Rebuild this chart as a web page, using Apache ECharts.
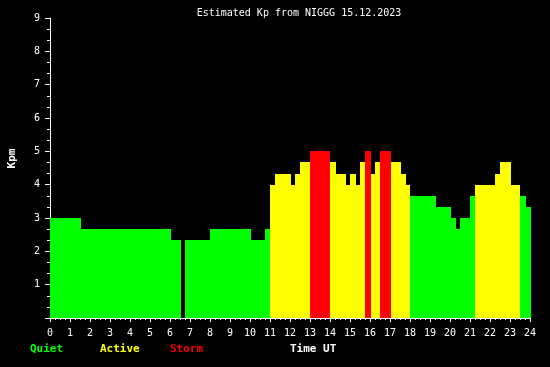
<!DOCTYPE html>
<html>
<head>
<meta charset="utf-8">
<script src="https://cdn.jsdelivr.net/npm/echarts@6/dist/echarts.min.js"></script>
<style>
html,body{margin:0;padding:0;background:#000;}
#chart{width:550px;height:367px;}
</style>
</head>
<body>
<div id="chart"></div>
<script>
// Kp intervals (hours UT) and estimated Kp values
const startHours = [0, 1.55, 6.05, 6.75, 8.0, 10.05, 10.75, 11.0, 11.25, 12.05, 12.25, 12.5, 13.0, 14.0, 14.3, 14.8, 15.0, 15.3, 15.5, 15.75, 16.05, 16.25, 16.5, 17.05, 17.55, 17.8, 18.0, 19.3, 20.05, 20.3, 20.5, 21.0, 21.25, 22.25, 22.5, 23.05, 23.5, 23.8];
const endHours   = [1.55, 6.05, 6.55, 8.0, 10.05, 10.75, 11.0, 11.25, 12.05, 12.25, 12.5, 13.0, 14.0, 14.3, 14.8, 15.0, 15.3, 15.5, 15.75, 16.05, 16.25, 16.5, 17.05, 17.55, 17.8, 18.0, 19.3, 20.05, 20.3, 20.5, 21.0, 21.25, 22.25, 22.5, 23.05, 23.5, 23.8, 24.05];
const kpValues   = [3.0, 2.667, 2.333, 2.333, 2.667, 2.333, 2.667, 4.0, 4.333, 4.0, 4.333, 4.667, 5.0, 4.667, 4.333, 4.0, 4.333, 4.0, 4.667, 5.0, 4.333, 4.667, 5.0, 4.667, 4.333, 4.0, 3.667, 3.333, 3.0, 2.667, 3.0, 3.667, 4.0, 4.333, 4.667, 4.0, 3.667, 3.333];
const xTickLabels = ['0','1','2','3','4','5','6','7','8','9','10','11','12','13','14','15','16','17','18','19','20','21','22','23','24'];
const legendLabels = ['Quiet', 'Active', 'Storm'];
const titleText = 'Estimated Kp from NIGGG 15.12.2023';

const GREEN = '#00ff00', YELLOW = '#ffff00', RED = '#ff0000';
const FONT = '"DejaVu Sans Mono", "Liberation Mono", monospace';

const data = startHours.map((s, i) => [s, endHours[i], kpValues[i]]);

function colorFor(v) {
  if (v >= 4.99) return RED;
  if (v >= 3.99) return YELLOW;
  return GREEN;
}

const chart = echarts.init(document.getElementById('chart'), null, {renderer: 'canvas'});
chart.setOption({
  backgroundColor: '#000000',
  animation: false,
  grid: {left: 50, right: 20, top: 18, height: 300},
  xAxis: {
    type: 'value', min: 0, max: 24, interval: 1,
    axisLine: {show: true, lineStyle: {color: '#ffffff', width: 1}},
    axisTick: {show: true, length: 4, lineStyle: {color: '#ffffff'}},
    minorTick: {show: true, splitNumber: 4, length: 2, lineStyle: {color: '#ffffff'}},
    splitLine: {show: false},
    axisLabel: {
      color: '#ffffff', fontFamily: FONT, fontSize: 10, margin: 10,
      formatter: (v) => xTickLabels[Math.round(v)] ?? ''
    }
  },
  yAxis: {
    type: 'value', min: 0, max: 9, interval: 1,
    axisLine: {show: true, lineStyle: {color: '#ffffff', width: 1}},
    axisTick: {show: true, length: 5, lineStyle: {color: '#ffffff'}},
    minorTick: {show: true, splitNumber: 3, length: 3, lineStyle: {color: '#ffffff'}},
    splitLine: {show: false},
    axisLabel: {
      color: '#ffffff', fontFamily: FONT, fontSize: 10, margin: 10,
      formatter: (v) => v === 0 ? '' : String(v)
    }
  },
  series: [{
    type: 'custom',
    data: data,
    encode: {x: [0, 1], y: 2},
    z: 5,
    renderItem: function (params, api) {
      const s = api.value(0), e = api.value(1), v = api.value(2);
      const p0 = api.coord([s, v]);
      const p1 = api.coord([e, 0]);
      const x0 = Math.round(p0[0]), x1 = Math.round(p1[0]);
      const y0 = Math.round(p0[1]), y1 = Math.round(p1[1]);
      return {
        type: 'rect',
        shape: {x: x0, y: y0, width: x1 - x0, height: y1 - y0},
        style: {fill: colorFor(v)}
      };
    }
  }],
  graphic: [
    {type: 'text', x: 299, y: 13, style: {text: titleText, fill: '#ffffff', font: '10px ' + FONT, align: 'center', verticalAlign: 'middle'}},
    {type: 'text', x: 12, y: 158.5, rotation: Math.PI / 2, style: {text: 'Kpm', fill: '#ffffff', font: 'bold 11px ' + FONT, align: 'center', verticalAlign: 'middle'}},
    {type: 'text', x: 30, y: 349, style: {text: legendLabels[0], fill: GREEN, font: 'bold 11px ' + FONT, align: 'left', verticalAlign: 'middle'}},
    {type: 'text', x: 100, y: 349, style: {text: legendLabels[1], fill: YELLOW, font: 'bold 11px ' + FONT, align: 'left', verticalAlign: 'middle'}},
    {type: 'text', x: 170, y: 349, style: {text: legendLabels[2], fill: RED, font: 'bold 11px ' + FONT, align: 'left', verticalAlign: 'middle'}},
    {type: 'text', x: 290, y: 349, style: {text: 'Time UT', fill: '#ffffff', font: 'bold 11px ' + FONT, align: 'left', verticalAlign: 'middle'}}
  ]
});
</script>
</body>
</html>
